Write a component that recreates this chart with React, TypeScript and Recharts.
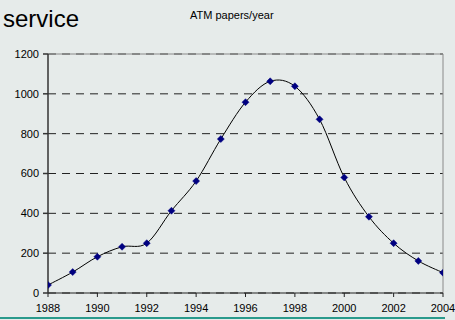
import React from "react";
import { LineChart, Line, XAxis, YAxis, CartesianGrid, ReferenceLine } from "recharts";

const years = [1988, 1989, 1990, 1991, 1992, 1993, 1994, 1995, 1996, 1997, 1998, 1999, 2000, 2001, 2002, 2003, 2004];
const papers = [40, 105, 182, 232, 250, 413, 562, 773, 958, 1063, 1038, 872, 580, 383, 250, 161, 102];
const xTicks = [1988, 1990, 1992, 1994, 1996, 1998, 2000, 2002, 2004];
const yTicks = [0, 200, 400, 600, 800, 1000, 1200];

const data = years.map((y, i) => ({ year: y, papers: papers[i] }));

const FONT = "Arial, 'Liberation Sans', sans-serif";

// Excel-style smoothed line (uniform Catmull-Rom as cubic Bezier)
function smoothCurve(context: any) {
  let pts: [number, number][] = [];
  return {
    areaStart() {},
    areaEnd() {},
    lineStart() {
      pts = [];
    },
    point(x: number, y: number) {
      pts.push([+x, +y]);
    },
    lineEnd() {
      const n = pts.length;
      if (!n) return;
      context.moveTo(pts[0][0], pts[0][1]);
      for (let i = 0; i < n - 1; i++) {
        const p0 = pts[Math.max(0, i - 1)];
        const p1 = pts[i];
        const p2 = pts[i + 1];
        const p3 = pts[Math.min(n - 1, i + 2)];
        const c1x = p1[0] + (p2[0] - p0[0]) / 6;
        const c1y = p1[1] + (p2[1] - p0[1]) / 6;
        const c2x = p2[0] - (p3[0] - p1[0]) / 6;
        const c2y = p2[1] - (p3[1] - p1[1]) / 6;
        context.bezierCurveTo(c1x, c1y, c2x, c2y, p2[0], p2[1]);
      }
    },
  };
}

const Diamond = (props: any) => {
  const { cx, cy } = props;
  if (cx == null || cy == null) return null;
  const r = 3.5;
  return (
    <polygon
      points={`${cx},${cy - r} ${cx + r},${cy} ${cx},${cy + r} ${cx - r},${cy}`}
      fill="#000080"
      stroke="#000080"
      strokeWidth={0.5}
    />
  );
};

export default function App() {
  return (
    <div
      style={{
        position: "fixed",
        left: 0,
        top: 0,
        width: 455,
        height: 320,
        background: "#e6ebea",
        fontFamily: FONT,
        overflow: "hidden",
      }}
    >
      <div style={{ position: "absolute", left: 3, top: 7, fontSize: 24, lineHeight: "24px", color: "#000" }}>service</div>
      <div style={{ position: "absolute", left: 190, top: 10, fontSize: 11, lineHeight: "11px", color: "#000" }}>
        ATM papers/year
      </div>
      <div style={{ position: "absolute", left: 0, top: 317, width: 445, height: 2, background: "#2a9a8c" }} />
      <div style={{ position: "absolute", left: 0, top: 0 }}>
        <LineChart width={455} height={320} data={data} margin={{ top: 54, right: 12, left: 8, bottom: 0 }}>
          <ReferenceLine x={2004} stroke="#8a8a8a" strokeWidth={1} />
          <ReferenceLine y={1200} stroke="#8a8a8a" strokeWidth={1} />
          <CartesianGrid horizontal vertical={false} stroke="#222" strokeDasharray="8 6" />
          <XAxis
            dataKey="year"
            type="number"
            domain={[1988, 2004]}
            ticks={xTicks}
            interval={0}
            height={27}
            tickSize={4}
            tickMargin={7}
            stroke="#222"
            tick={{ fill: "#000", fontSize: 11, fontFamily: FONT }}
            allowDataOverflow
          />
          <YAxis
            type="number"
            domain={[0, 1200]}
            ticks={yTicks}
            interval={0}
            width={40}
            tickSize={5}
            tickMargin={4}
            stroke="#333"
            strokeWidth={1.5}
            tick={{ fill: "#000", fontSize: 11, fontFamily: FONT }}
          />
          <Line
            dataKey="papers"
            type={smoothCurve as any}
            stroke="#000"
            strokeWidth={1}
            dot={<Diamond />}
            activeDot={false}
            isAnimationActive={false}
          />
        </LineChart>
      </div>
    </div>
  );
}
